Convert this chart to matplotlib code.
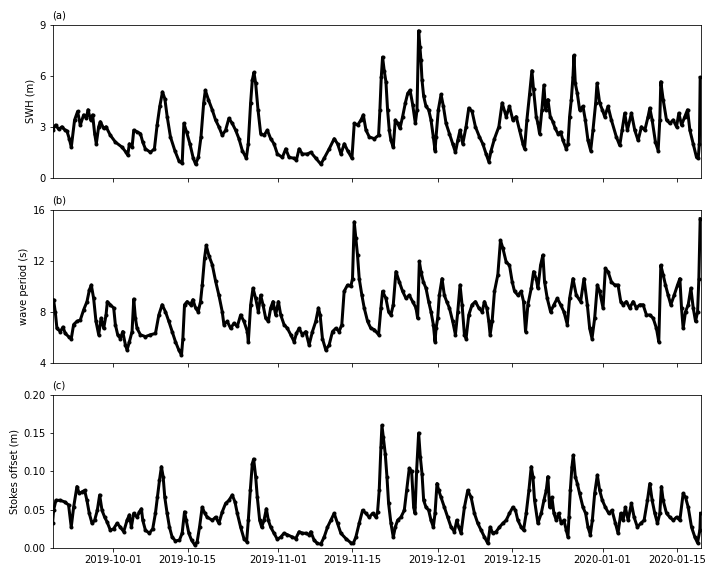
import numpy as np
import pandas as pd
import matplotlib
matplotlib.use("Agg")
import matplotlib.pyplot as plt
import matplotlib.dates as mdates

# times are days since 2019-09-19 00:00
start = pd.Timestamp("2019-09-19")

swh_t = [0.64, 1.2, 1.8, 2.4, 3.0, 3.34, 3.78, 4.16, 4.78, 5.35, 5.85, 6.48, 7.0, 7.3, 7.8, 8.17, 8.55, 8.86,
         9.3, 9.62, 10.25, 10.69, 11.5, 12.45, 13.7, 14.45, 14.77, 15.08, 15.58, 15.9, 16.52, 17.15, 17.59,
         18.09, 19.03, 19.78, 20.29, 20.79, 21.3, 21.74, 22.18, 22.8, 23.62, 24.38, 25.0, 25.32, 25.82, 26.45,
         27.08, 27.52, 28.03, 28.53, 29.04, 29.35, 29.92, 30.65, 31.27, 31.9, 32.53, 33.16, 33.78, 34.41,
         35.04, 35.67, 36.3, 37.05, 37.42, 37.86, 38.18, 38.49, 38.81, 39.25, 39.75, 40.38, 41.0, 41.63,
         42.26, 42.89, 43.83, 44.46, 45.09, 46.03, 46.47, 46.97, 47.6, 48.54, 49.17, 50.11, 51.06, 51.68,
         52.63, 53.57, 54.2, 54.83, 55.46, 56.09, 56.9, 57.34, 57.97, 58.6, 59.04, 59.54, 60.17, 61.11,
         61.91, 62.16, 62.41, 62.66, 62.97, 63.29, 63.6, 63.92, 64.23, 64.67, 65.05, 65.49, 65.93, 66.43,
         66.94, 67.38, 67.82, 68.32, 68.82, 69.13, 69.44, 69.69, 69.88, 70.07, 70.38, 70.82, 71.32, 71.76,
         72.2, 72.52, 72.71, 73.14, 73.65, 74.09, 74.59, 75.22, 75.84, 76.35, 76.79, 77.22, 77.73, 78.35,
         78.86, 79.48, 80.11, 80.87, 81.49, 82.12, 82.62, 83.06, 83.69, 84.51, 85.13, 85.89, 86.51, 87.14,
         87.77, 88.4, 89.03, 89.34, 89.78, 90.28, 90.72, 91.03, 91.54, 91.85, 92.16, 92.6, 92.98, 93.29,
         93.73, 94.17, 94.67, 95.11, 95.61, 96.12, 96.56, 97.18, 97.5, 97.81, 98.13, 98.44, 98.63, 98.88,
         99.26, 99.69, 100.32, 100.76, 101.26, 101.77, 102.2, 102.71, 102.96, 103.46, 103.96, 104.4, 105.03,
         105.66, 106.6, 107.23, 107.67, 108.17, 108.67, 109.43, 110.05, 110.68, 111.31, 111.94, 112.56,
         112.88, 113.32, 113.94, 114.45, 114.76, 114.95, 115.39, 116.02, 116.64, 117.27, 117.9, 118.34,
         118.84, 119.47, 119.97, 120.41, 121.04, 121.66, 121.98, 122.2, 122.35]
swh = [2.8, 3.1, 2.85, 3.0, 2.8, 2.75, 2.3, 1.8, 3.4, 3.9, 3.1, 3.7, 3.5, 4.0, 3.4, 3.7, 2.6, 2.0,
       3.0, 3.3, 2.9, 3.0, 2.5, 2.1, 1.8, 1.5, 1.33, 2.0, 1.8, 2.8, 2.7, 2.6, 2.1,
       1.7, 1.5, 1.7, 3.1, 4.2, 5.05, 4.65, 3.6, 2.4, 1.6, 1.0, 0.85, 3.2, 2.7, 2.0,
       1.15, 0.8, 1.2, 2.4, 4.4, 5.15, 4.6, 4.0, 3.4, 3.0, 2.5, 2.8, 3.5, 3.2,
       2.8, 2.3, 1.6, 1.15, 2.0, 4.4, 5.75, 6.2, 5.55, 4.0, 2.6, 2.5, 2.8, 2.3,
       2.0, 1.4, 1.2, 1.7, 1.2, 1.15, 1.05, 1.7, 1.4, 1.4, 1.5, 1.15, 0.8, 1.15,
       1.7, 2.3, 2.0, 1.4, 2.0, 1.6, 1.15, 3.2, 3.1, 3.4, 3.7, 2.8, 2.4, 2.3,
       2.5, 4.0, 5.9, 7.1, 6.3, 5.65, 4.0, 2.8, 2.2, 1.8, 3.4, 3.2, 2.9, 3.6,
       4.4, 4.96, 5.15, 4.3, 3.2, 4.0, 8.65, 7.7, 6.9, 5.75, 4.8, 4.2, 4.0, 3.4,
       2.4, 1.6, 2.4, 4.0, 4.9, 4.2, 3.2, 2.6, 2.0, 1.5, 2.2, 2.8, 2.0, 3.0,
       4.1, 3.9, 3.0, 2.4, 2.0, 1.4, 0.95, 1.6, 2.3, 3.0, 4.4, 3.6, 4.2, 3.4,
       3.6, 2.8, 2.0, 1.7, 3.4, 4.9, 6.3, 5.2, 3.6, 3.2, 2.6, 4.0, 5.45, 4.0,
       4.6, 3.6, 3.3, 2.9, 2.6, 2.7, 2.2, 1.7, 2.0, 3.6, 4.6, 5.95, 7.2, 5.55,
       4.96, 4.0, 4.2, 3.4, 2.2, 1.6, 2.8, 4.4, 5.55, 4.4, 4.0, 3.6, 4.2,
       3.4, 2.4, 1.9, 2.8, 3.8, 2.8, 3.8, 2.8, 2.2, 3.0, 2.8, 3.6,
       4.1, 3.4, 2.1, 1.6, 3.4, 5.65, 4.6, 3.4, 3.2, 3.4, 3.0, 3.8,
       3.1, 3.6, 4.0, 2.8, 2.0, 1.2, 1.15, 2.0, 5.9]

per_t = [0.64, 0.83, 1.15, 1.46, 2.09, 2.6, 3.03, 3.66, 4.16, 4.6, 5.23, 5.85, 6.48, 7.11, 7.55, 7.92,
         8.36, 8.8, 9.31, 9.75, 10.25, 10.69, 10.94, 11.5, 12.13, 12.44, 12.88, 13.39, 13.83, 14.33, 14.64,
         15.08, 15.58, 15.9, 16.21, 16.52, 17.15, 18.09, 19.04, 19.98, 20.61, 21.23, 21.86, 22.49, 23.12,
         23.74, 24.37, 24.87, 25.13, 25.44, 25.94, 26.57, 27.01, 27.51, 28.01, 28.45, 28.77, 29.2, 29.52,
         30.02, 30.65, 31.28, 31.9, 32.53, 32.84, 33.47, 34.1, 34.73, 35.36, 35.98, 36.61, 37.24, 37.43,
         37.87, 38.31, 38.81, 39.31, 39.75, 40.19, 40.69, 41.19, 41.63, 42.07, 42.57, 43.08, 43.52, 44.14,
         44.77, 45.4, 46.03, 46.47, 46.97, 47.6, 48.22, 48.85, 49.48, 50.11, 50.61, 50.92, 51.36, 51.99,
         52.62, 53.25, 53.87, 54.5, 55.0, 55.44, 56.07, 56.7, 57.01, 57.33, 57.64, 57.95, 58.27, 58.77,
         59.21, 59.84, 60.46, 61.09, 61.91, 62.35, 62.66, 63.29, 63.79, 64.23, 64.67, 65.17, 65.8, 66.43,
         67.06, 67.68, 68.31, 68.94, 69.25, 69.57, 69.88, 70.32, 70.82, 71.32, 71.76, 72.2, 72.52, 72.71,
         73.02, 73.33, 73.83, 74.27, 74.71, 75.22, 75.84, 76.35, 76.79, 77.22, 77.6, 78.04, 78.35, 78.86,
         79.48, 80.11, 80.74, 81.37, 81.81, 82.25, 82.62, 82.87, 83.25, 83.69, 84.32, 84.82, 85.26, 85.89,
         86.51, 87.02, 87.46, 88.08, 88.71, 89.15, 89.53, 89.97, 90.6, 91.04, 91.54, 91.85, 92.35, 92.79,
         93.1, 93.61, 94.23, 94.86, 95.49, 96.12, 96.74, 97.37, 97.81, 98.44, 99.07, 99.88, 100.51, 101.14,
         101.58, 102.02, 102.52, 103.02, 103.46, 104.09, 104.53, 105.03, 105.66, 106.28, 106.91, 107.42,
         107.86, 108.48, 109.11, 109.74, 110.37, 110.99, 111.62, 112.25, 112.88, 113.51, 114.13, 114.57,
         114.95, 115.39, 115.83, 116.33, 116.83, 117.46, 118.09, 118.53, 118.84, 119.15, 119.59, 120.1,
         120.6, 121.04, 121.48, 121.86, 122.1, 122.35]
period = [8.9, 8.93, 8.0, 6.7, 6.45, 6.8, 6.3, 6.05, 5.9, 7.0, 7.25, 7.35, 8.15, 8.8, 9.7, 10.1,
          9.05, 7.25, 6.2, 7.5, 6.7, 7.75, 8.8, 8.55, 8.3, 7.0, 6.2, 5.9, 6.45, 5.4, 5.0,
          5.65, 6.45, 9.0, 7.5, 6.7, 6.2, 6.05, 6.2, 6.3, 7.75, 8.55, 8.0, 7.25, 6.45,
          5.65, 5.0, 4.6, 5.9, 8.55, 8.8, 8.55, 8.95, 8.3, 8.0, 8.8, 10.1, 12.2, 13.2,
          12.4, 11.7, 10.4, 9.3, 8.0, 7.0, 7.25, 6.7, 7.1, 6.85, 7.75, 7.25, 6.45, 5.65,
          8.55, 9.85, 9.05, 8.0, 9.3, 8.55, 7.5, 7.25, 8.3, 8.8, 7.75, 8.8, 7.75, 7.0,
          6.7, 6.2, 5.65, 6.3, 6.7, 6.2, 6.45, 5.4, 6.45, 7.25, 8.3, 7.75, 5.9, 5.0,
          5.4, 6.45, 6.7, 6.45, 7.0, 9.6, 10.1, 10.0, 10.6, 15.05, 13.75, 12.45, 10.6, 9.3,
          8.3, 7.25, 6.7, 6.6, 6.2, 8.3, 9.6, 9.05, 8.0, 7.75, 8.55, 11.15, 10.35, 9.6,
          9.05, 9.3, 8.8, 8.3, 7.5, 11.95, 11.15, 10.35, 9.85, 8.8, 8.0, 7.0, 5.65, 6.7,
          7.5, 9.3, 10.6, 9.3, 8.8, 8.3, 7.25, 6.2, 8.0, 10.1, 8.55, 6.2, 5.9, 7.75,
          8.55, 8.8, 8.3, 8.0, 8.8, 8.3, 7.25, 6.2, 7.25, 9.6, 10.9, 13.6, 13.0, 11.9,
          11.65, 10.35, 9.6, 9.3, 9.6, 8.8, 6.45, 8.55, 9.85, 11.15, 10.6, 9.85, 11.65, 12.45,
          10.35, 9.05, 8.0, 8.55, 9.05, 8.55, 8.0, 7.0, 9.05, 10.6, 9.3, 8.8, 10.6, 8.55,
          6.7, 5.9, 7.5, 10.1, 9.6, 8.3, 11.4, 11.15, 10.35, 10.1, 10.1, 8.8,
          8.55, 8.8, 8.3, 8.8, 8.3, 8.55, 8.55, 7.75, 7.75, 7.5, 6.7, 5.65,
          11.65, 10.9, 10.1, 9.3, 8.55, 9.3, 10.1, 10.6, 8.3, 6.7, 8.0, 8.55,
          9.85, 8.3, 7.25, 8.0, 10.6, 15.3]

stk_t = [0.64, 0.83, 1.27, 2.08, 2.9, 3.65, 4.15, 4.6, 5.22, 5.66, 6.16, 6.67, 7.1, 7.54, 8.05, 8.55,
         9.05, 9.49, 9.93, 10.43, 10.87, 11.5, 12.13, 12.76, 13.38, 14.01, 14.64, 15.08, 15.45, 15.89,
         16.52, 16.96, 17.34, 17.59, 18.09, 18.84, 19.47, 19.97, 20.35, 20.73, 21.1, 21.42, 21.73, 22.17,
         22.61, 23.11, 23.74, 24.49, 24.99, 25.44, 25.75, 26.25, 26.76, 27.38, 27.82, 28.26, 28.76, 29.26,
         29.7, 30.65, 31.28, 31.9, 32.53, 33.16, 33.79, 34.41, 34.92, 35.36, 35.98, 36.61, 37.11, 37.43,
         37.8, 38.18, 38.43, 38.81, 39.12, 39.56, 39.94, 40.38, 40.82, 41.19, 41.63, 42.26, 42.89, 43.52,
         44.14, 44.77, 45.71, 46.34, 46.97, 47.6, 48.22, 48.85, 49.17, 49.79, 50.42, 51.05, 51.68, 52.31,
         52.93, 53.56, 54.19, 54.82, 55.76, 56.7, 57.14, 57.64, 58.27, 58.9, 59.52, 60.15, 60.78, 61.41,
         61.72, 62.03, 62.35, 62.54, 62.79, 63.16, 63.48, 63.79, 64.23, 64.67, 65.05, 65.49, 66.11, 66.74,
         67.18, 67.68, 68.12, 68.5, 68.75, 69.06, 69.44, 69.75, 70.07, 70.38, 70.82, 71.32, 71.76, 72.2,
         72.52, 72.89, 73.21, 73.65, 74.27, 74.9, 75.53, 76.16, 76.6, 76.97, 77.41, 78.04, 78.67, 79.3,
         79.92, 80.55, 81.18, 81.81, 82.44, 82.87, 83.38, 84.0, 84.63, 85.26, 85.89, 86.51, 87.14, 87.64,
         88.08, 88.71, 89.15, 89.65, 90.16, 90.6, 90.91, 91.22, 91.85, 92.48, 92.98, 93.42, 93.73, 94.04,
         94.48, 94.86, 95.3, 95.74, 96.24, 96.74, 97.18, 97.5, 97.69, 97.94, 98.25, 98.5, 98.88, 99.26,
         99.69, 100.32, 100.82, 101.26, 101.7, 102.08, 102.52, 103.02, 103.46, 103.96, 104.53, 105.16,
         105.78, 106.41, 106.91, 107.42, 107.86, 108.29, 108.8, 109.43, 109.93, 110.55, 111.18, 111.81,
         112.44, 112.88, 113.32, 113.82, 114.32, 114.76, 115.07, 115.39, 116.02, 116.64, 117.27, 117.9,
         118.53, 119.15, 119.59, 120.1, 120.72, 121.35, 121.85, 122.29, 122.42]
stokes = [0.032, 0.049, 0.062, 0.062, 0.060, 0.056, 0.027, 0.053, 0.080, 0.071, 0.073, 0.075, 0.062, 0.045, 0.032, 0.036,
          0.049, 0.069, 0.049, 0.040, 0.034, 0.023, 0.025, 0.032, 0.027, 0.021, 0.036, 0.043, 0.027, 0.045,
          0.040, 0.047, 0.051, 0.036, 0.023, 0.019, 0.025, 0.045, 0.066, 0.088, 0.106, 0.093, 0.066, 0.045,
          0.027, 0.014, 0.009, 0.010, 0.019, 0.047, 0.036, 0.019, 0.010, 0.0035, 0.008, 0.027, 0.053, 0.045,
          0.040, 0.036, 0.040, 0.032, 0.047, 0.058, 0.062, 0.069, 0.060, 0.045, 0.027, 0.012, 0.008, 0.036,
          0.075, 0.110, 0.116, 0.093, 0.066, 0.036, 0.027, 0.036, 0.051, 0.036, 0.027, 0.019, 0.011, 0.014,
          0.019, 0.017, 0.014, 0.012, 0.021, 0.019, 0.019, 0.017, 0.021, 0.010, 0.0056, 0.0048, 0.014, 0.027,
          0.036, 0.045, 0.032, 0.019, 0.012, 0.0065, 0.0056, 0.014, 0.032, 0.049, 0.045, 0.040, 0.045, 0.040,
          0.047, 0.075, 0.132, 0.160, 0.145, 0.123, 0.093, 0.058, 0.032, 0.014, 0.027, 0.036, 0.040, 0.049,
          0.075, 0.104, 0.100, 0.053, 0.045, 0.101, 0.150, 0.119, 0.097, 0.062, 0.053, 0.049, 0.036, 0.027,
          0.045, 0.084, 0.075, 0.066, 0.053, 0.040, 0.027, 0.021, 0.036, 0.027, 0.019, 0.053, 0.075, 0.066,
          0.045, 0.032, 0.023, 0.014, 0.0056, 0.027, 0.019, 0.021, 0.027, 0.032, 0.036, 0.045, 0.053, 0.049,
          0.036, 0.027, 0.023, 0.045, 0.075, 0.106, 0.093, 0.062, 0.032, 0.045, 0.062, 0.075, 0.093, 0.053,
          0.066, 0.045, 0.036, 0.045, 0.032, 0.036, 0.023, 0.014, 0.040, 0.075, 0.106, 0.121, 0.093, 0.084,
          0.071, 0.053, 0.045, 0.027, 0.017, 0.036, 0.071, 0.095, 0.075, 0.062, 0.053, 0.045,
          0.049, 0.032, 0.019, 0.045, 0.036, 0.053, 0.036, 0.058, 0.040, 0.027, 0.032, 0.036,
          0.062, 0.084, 0.062, 0.045, 0.032, 0.045, 0.080, 0.062, 0.045, 0.040, 0.036, 0.040,
          0.036, 0.071, 0.066, 0.053, 0.027, 0.014, 0.0065, 0.023, 0.045]


def to_dates(days):
    return start + pd.to_timedelta(np.array(days), unit="D")


fig, axes = plt.subplots(3, 1, figsize=(10, 8), dpi=72, sharex=True)
fig.subplots_adjust(left=0.073, right=0.973, top=0.957, bottom=0.049, hspace=0.209)

series = [(swh_t, swh, "SWH (m)", "(a)", (0, 9), [0, 3, 6, 9]),
          (per_t, period, "wave period (s)", "(b)", (4, 16), [4, 8, 12, 16]),
          (stk_t, stokes, "Stokes offset (m)", "(c)", (0, 0.2), [0, 0.05, 0.1, 0.15, 0.2])]

for ax, (t, v, ylab, tag, ylim, yt) in zip(axes, series):
    ax.plot(to_dates(t), v, color="black", lw=3.0, marker="o", ms=3.0,
            solid_joinstyle="round")
    ax.set_ylim(*ylim)
    ax.set_yticks(yt)
    ax.set_ylabel(ylab)
    ax.set_title(tag, loc="left", fontsize=10)

axes[2].yaxis.set_major_formatter(plt.FormatStrFormatter("%.2f"))
axes[2].set_xlim(start + pd.Timedelta(days=0.64), start + pd.Timedelta(days=122.42))
axes[2].xaxis.set_major_locator(mdates.DayLocator(bymonthday=[1, 15]))
axes[2].xaxis.set_major_formatter(mdates.DateFormatter("%Y-%m-%d"))

fig.savefig("out.png", dpi=72)
